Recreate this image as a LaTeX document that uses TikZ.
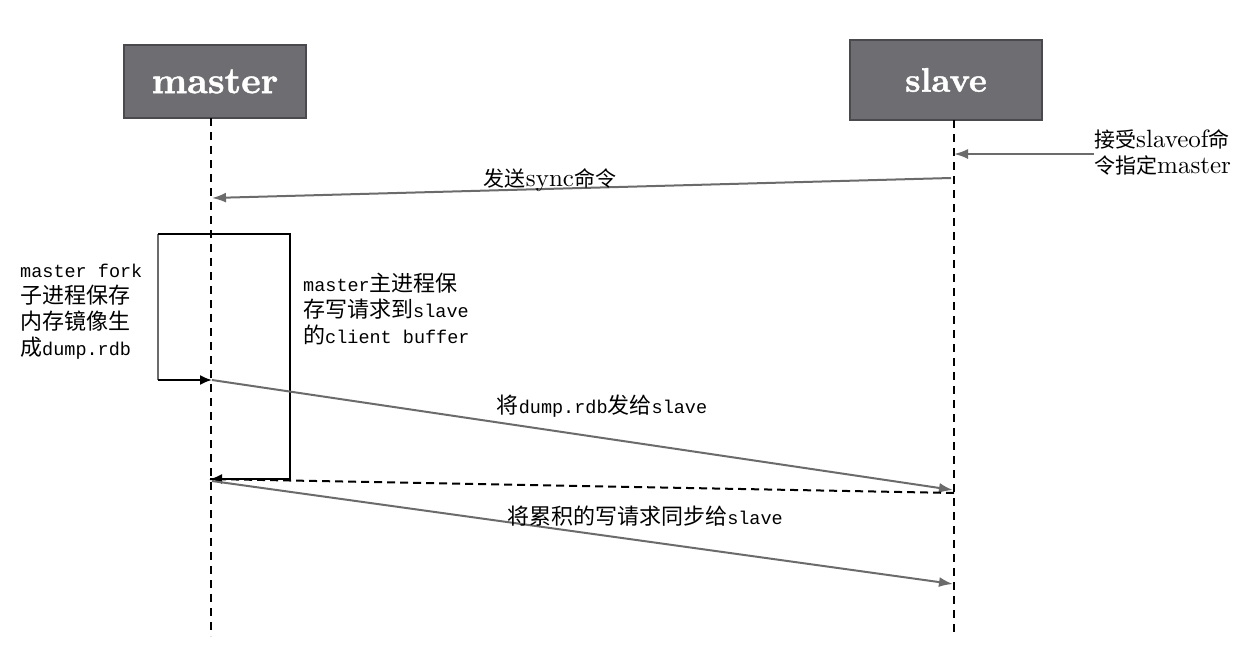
\documentclass[tikz,border=0pt]{standalone}
\usepackage{fontspec}
\usetikzlibrary{arrows.meta}
\newfontfamily\cjk{Noto Sans CJK SC}
\newfontfamily\mono{Liberation Mono}
\newfontfamily\bx{lmroman10-bold.otf}[FakeBold=1.2]
\newfontfamily\rmten{lmroman10-regular.otf}
\definecolor{boxfill}{HTML}{6E6D72}
\definecolor{boxedge}{HTML}{4A4A4E}
\definecolor{msggray}{HTML}{6B6B6B}
\newcommand{\cj}[1]{{\cjk\fontsize{21}{26}\selectfont #1}}
\newcommand{\cjm}[1]{{\cjk\fontsize{22}{26}\selectfont #1}}
\newcommand{\mn}[1]{{\mono\fontsize{18.5}{26}\selectfont #1}}
\newcommand{\lt}[1]{{\rmten\fontsize{25}{26}\selectfont #1}}
\begin{document}
\begin{tikzpicture}[x=1pt,y=-1pt,
  actor/.style={draw=boxedge,line width=1.5pt,fill=boxfill,text=white,
    font=\bx, inner sep=0pt},
  life/.style={line width=1.8pt,dash pattern=on 8pt off 6pt},
  msg/.style={draw=msggray,line width=2pt,-{Latex[length=14pt,width=10pt]}},
  bracket/.style={draw=black,line width=2pt},
  bracketarrow/.style={bracket,-{Latex[length=12pt,width=10pt]}},
  lbl/.style={inner sep=0pt,align=left,anchor=north west,font=\fontsize{22}{26}\selectfont},
  mlbl/.style={inner sep=0pt,anchor=base}]
\useasboundingbox (0,0) rectangle (1245,667);
% actors
\node[actor,minimum width=182pt,minimum height=73pt] (master) at (215,81.5)
  {\fontsize{37}{40}\selectfont master};
\node[actor,minimum width=192pt,minimum height=80pt] (slave) at (946,80)
  {\fontsize{34}{40}\selectfont slave};
% lifelines
\coordinate (mtop) at (211,118);
\coordinate (mbot) at (211,636);
\coordinate (stop) at (954,120);
\coordinate (sbot) at (954,636);
\draw[life] (mtop) -- (mbot);
\draw[life] (stop) -- (sbot);
% slaveof command
\coordinate (cmd) at (1094,154);
\coordinate (s1) at (954,154);
\draw[msg] (cmd) -- (s1);
\node[lbl] (cmdlbl) at (1094,127)
  {\rule{0pt}{20pt}\cj{接受}\lt{slaveof}\cj{命}\\
   \cj{令指定}\lt{master}};
% sync
\coordinate (s2) at (951,178);
\coordinate (m1) at (212,198);
\draw[msg] (s2) -- (m1);
\node[mlbl] (synclbl) at (550,186)
  {\cj{发送}\lt{sync}\cj{命令}};
% bracket
\coordinate (btl) at (158,234);
\coordinate (btr) at (290,234);
\coordinate (bbl) at (158,380);
\coordinate (bbr) at (290,479);
\coordinate (m2) at (212,380);
\coordinate (m3) at (210,479);
\draw[draw=msggray,line width=2pt] (btl) -- (bbl);
\draw[bracketarrow] (bbl) -- (m2);
\draw[bracketarrow] (btl) -- (btr) -- (bbr) -- (m3);
\node[lbl] (forklbl) at (20,257)
  {\rule{0pt}{20pt}\mn{master fork}\\
   \cjm{子进程保存}\\
   \cjm{内存镜像生}\\
   \cjm{成}\mn{dump.rdb}};
\node[lbl] (bufflbl) at (303,271)
  {\rule{0pt}{20pt}\mn{master}\cjm{主进程保}\\
   \cjm{存写请求到}\mn{slave}\\
   \cjm{的}\mn{client buffer}};
% dump
\coordinate (s3) at (953,490);
\draw[msg] (m2) -- (s3);
\node[mlbl] (dumplbl) at (602,413)
  {\cjm{将}\mn{dump.rdb}\cjm{发给}\mn{slave}};
% dashed return
\coordinate (s4) at (954,493);
\draw[line width=2pt,dash pattern=on 8pt off 5pt] (s4) -- (m3);
% accumulate
\coordinate (m4) at (212,481);
\coordinate (s5) at (953,584);
\draw[msg] (m4) -- (s5);
\node[mlbl] (acclbl) at (645,524)
  {\cjm{将累积的写请求同步给}\mn{slave}};
\end{tikzpicture}
\end{document}
